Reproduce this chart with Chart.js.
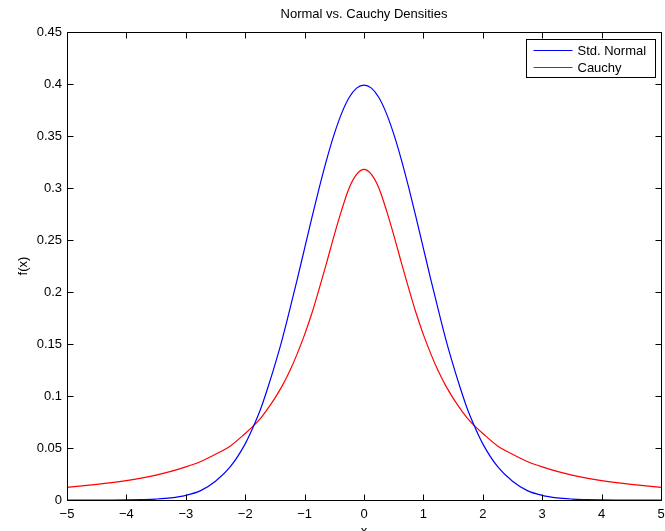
<!DOCTYPE html>
<html>
<head>
<meta charset="utf-8">
<script src="https://cdn.jsdelivr.net/npm/chart.js@4.4.1/dist/chart.umd.min.js"></script>
<style>
  html, body { margin: 0; padding: 0; background: #fff; overflow: hidden; }
  #wrap { width: 665px; height: 545px; }
</style>
</head>
<body>
<div id="wrap"><canvas id="densityChart" width="665" height="545"></canvas></div>
<script>
// x positions (finer steps around the peaks)
const xValues = [-5, -4.75, -4.5, -4.25, -4, -3.75, -3.5, -3.25, -3, -2.75, -2.5, -2.25,
  -2, -1.875, -1.75, -1.625, -1.5, -1.375, -1.25, -1.125, -1, -0.875, -0.75, -0.625, -0.5, -0.375, -0.25, -0.125,
  0, 0.125, 0.25, 0.375, 0.5, 0.625, 0.75, 0.875, 1, 1.125, 1.25, 1.375, 1.5, 1.625, 1.75, 1.875, 2,
  2.25, 2.5, 2.75, 3, 3.25, 3.5, 3.75, 4, 4.25, 4.5, 4.75, 5];

// blue curve
const normalValues = [0, 0, 0, 0, 0.0001, 0.0004, 0.0009, 0.002, 0.0044, 0.009, 0.018, 0.032,
  0.054, 0.069, 0.086, 0.107, 0.130, 0.155, 0.183, 0.212, 0.242, 0.272, 0.301, 0.328, 0.352, 0.372, 0.387, 0.396,
  0.399, 0.396, 0.387, 0.372, 0.352, 0.328, 0.301, 0.272, 0.242, 0.212, 0.183, 0.155, 0.130, 0.107, 0.086, 0.069, 0.054,
  0.032, 0.018, 0.009, 0.0044, 0.002, 0.0009, 0.0004, 0.0001, 0, 0, 0, 0];

// red curve
const cauchyValues = [0.0122, 0.0135, 0.015, 0.0167, 0.0187, 0.0211, 0.024, 0.0275, 0.0318, 0.037, 0.044, 0.052,
  0.064, 0.0705, 0.078, 0.0874, 0.098, 0.110, 0.124, 0.1405, 0.159, 0.180, 0.204, 0.229, 0.255, 0.279, 0.300, 0.313,
  0.318, 0.313, 0.300, 0.279, 0.255, 0.229, 0.204, 0.180, 0.159, 0.1405, 0.124, 0.110, 0.098, 0.0874, 0.078, 0.0705, 0.064,
  0.052, 0.044, 0.037, 0.0318, 0.0275, 0.024, 0.0211, 0.0187, 0.0167, 0.015, 0.0135, 0.0122];

const xTicks = [-5, -4, -3, -2, -1, 0, 1, 2, 3, 4, 5];
const yTicks = [0, 0.05, 0.1, 0.15, 0.2, 0.25, 0.3, 0.35, 0.4, 0.45];
const seriesLabels = ['Std. Normal', 'Cauchy'];

const FONT = 'Liberation Sans, Arial, Helvetica, sans-serif';

function toPoints(ys) {
    return xValues.map((x, i) => ({ x: x, y: ys[i] }));
}

// MATLAB style box with inward ticks on all four sides
const boxTicks = {
    id: 'boxTicks',
    afterDatasetsDraw(chart) {
        const { ctx, chartArea: a, scales } = chart;
        const len = 6;
        ctx.save();
        ctx.strokeStyle = '#000';
        ctx.lineWidth = 1;
        ctx.beginPath();
        const L = Math.round(a.left) + 0.5, R = Math.round(a.right) + 0.5;
        const T = Math.round(a.top) + 0.5, B = Math.round(a.bottom) + 0.5;
        ctx.rect(L, T, R - L, B - T);
        scales.x.ticks.forEach(t => {
            const px = Math.round(scales.x.getPixelForValue(t.value)) + 0.5;
            ctx.moveTo(px, B); ctx.lineTo(px, B - len);
            ctx.moveTo(px, T); ctx.lineTo(px, T + len);
        });
        scales.y.ticks.forEach(t => {
            const py = Math.round(scales.y.getPixelForValue(t.value)) + 0.5;
            ctx.moveTo(L, py); ctx.lineTo(L + len, py);
            ctx.moveTo(R, py); ctx.lineTo(R - len, py);
        });
        ctx.stroke();
        ctx.restore();
    }
};

// legend box in the upper right corner of the plot
const boxLegend = {
    id: 'boxLegend',
    afterDraw(chart) {
        const { ctx, chartArea: a } = chart;
        const w = 129, h = 38;
        const left = Math.round(a.right - 6 - w) + 0.5;
        const top = Math.round(a.top + 7) + 0.5;
        ctx.save();
        ctx.fillStyle = '#fff';
        ctx.fillRect(left, top, w, h);
        ctx.strokeStyle = '#000';
        ctx.lineWidth = 1;
        ctx.strokeRect(left, top, w, h);
        ctx.font = '13px ' + FONT;
        ctx.textBaseline = 'middle';
        chart.data.datasets.forEach((ds, i) => {
            const y = Math.round(top + 10 + i * 17) + 0.5;
            ctx.strokeStyle = ds.borderColor;
            ctx.beginPath();
            ctx.moveTo(left + 7, y);
            ctx.lineTo(left + 46, y);
            ctx.stroke();
            ctx.fillStyle = '#000';
            ctx.fillText(ds.label, left + 51, y + 0.5);
        });
        ctx.restore();
    }
};

const ctx = document.getElementById('densityChart').getContext('2d');
new Chart(ctx, {
    type: 'line',
    data: {
        datasets: [{
            label: seriesLabels[0],
            data: toPoints(normalValues),
            borderColor: '#0000ff',
            borderWidth: 1.2,
            pointRadius: 0,
            cubicInterpolationMode: 'monotone',
            fill: false,
            clip: 2
        }, {
            label: seriesLabels[1],
            data: toPoints(cauchyValues),
            borderColor: '#ff0000',
            borderWidth: 1.2,
            pointRadius: 0,
            cubicInterpolationMode: 'monotone',
            fill: false,
            clip: 2
        }]
    },
    options: {
        responsive: false,
        animation: false,
        layout: { padding: { right: 4 } },
        plugins: {
            legend: { display: false },
            tooltip: { enabled: false },
            title: {
                display: true,
                fullSize: false,
                text: 'Normal vs. Cauchy Densities',
                color: '#000',
                font: { family: FONT, size: 13, weight: 'normal' },
                padding: { top: 7, bottom: 9.4 }
            }
        },
        scales: {
            x: {
                type: 'linear',
                min: -5,
                max: 5,
                afterBuildTicks: s => { s.ticks = xTicks.map(v => ({ value: v })); },
                afterFit: s => { s.height = 45; s.paddingLeft = 0; s.paddingRight = 0; },
                grid: { display: false, drawTicks: false },
                border: { display: false },
                ticks: {
                    color: '#000',
                    padding: 7,
                    maxRotation: 0,
                    font: { family: FONT, size: 13 },
                    callback: v => String(v).replace('-', '\u2212')
                },
                title: {
                    display: true,
                    text: 'x',
                    color: '#000',
                    font: { family: FONT, size: 13 },
                    padding: { top: 0, bottom: 6 }
                }
            },
            y: {
                min: 0,
                max: 0.45,
                afterBuildTicks: s => { s.ticks = yTicks.map(v => ({ value: v })); },
                afterFit: s => { s.width = 67; },
                grid: { display: false, drawTicks: false },
                border: { display: false },
                ticks: {
                    color: '#000',
                    padding: 5,
                    font: { family: FONT, size: 13 },
                    callback: v => String(v)
                },
                title: {
                    display: true,
                    text: 'f(x)',
                    color: '#000',
                    font: { family: FONT, size: 13 },
                    padding: { top: 16, bottom: 0 }
                }
            }
        }
    },
    plugins: [boxTicks, boxLegend]
});
</script>
</body>
</html>
